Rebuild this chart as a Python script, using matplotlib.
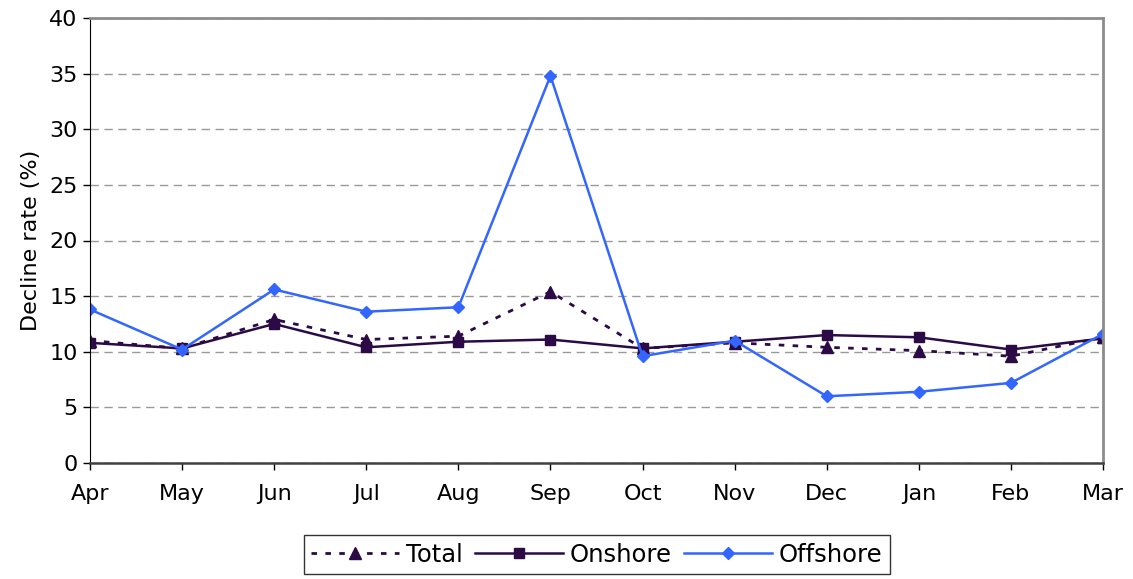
import matplotlib.pyplot as plt

# Данные
months = ["Apr", "May", "Jun", "Jul", "Aug", "Sep", "Oct", "Nov", "Dec", "Jan", "Feb", "Mar"]
total = [11.0, 10.3, 12.9, 11.1, 11.4, 15.4, 10.3, 10.8, 10.4, 10.1, 9.6, 11.3]
onshore = [10.8, 10.3, 12.5, 10.4, 10.9, 11.1, 10.3, 10.9, 11.5, 11.3, 10.2, 11.2]
offshore = [13.8, 10.2, 15.6, 13.6, 14.0, 34.8, 9.6, 11.0, 6.0, 6.4, 7.2, 11.6]

dark = "#2b0a45"
blue = "#3366ff"

fig = plt.figure(figsize=(11.33, 5.79), dpi=100)
ax = fig.add_axes([90 / 1133, 1 - 463 / 579, 1013 / 1133, 445 / 579])

x = range(len(months))
ax.plot(x, total, color=dark, linestyle=(0, (2, 3)), linewidth=2,
        marker="^", markersize=8, label="Total")
ax.plot(x, onshore, color=dark, linewidth=1.8,
        marker="s", markersize=7, label="Onshore")
ax.plot(x, offshore, color=blue, linewidth=1.8,
        marker="D", markersize=6.5, label="Offshore")

ax.set_xlim(0, len(months) - 1)
ax.set_ylim(0, 40)
ax.set_xticks(list(x))
ax.set_xticklabels(months)
ax.set_yticks(range(0, 41, 5))
ax.tick_params(labelsize=16, direction="out", length=5, width=1)
ax.tick_params(axis="x", pad=10)
ax.tick_params(axis="y", pad=4)
ax.set_ylabel("Decline rate (%)", fontsize=16, labelpad=6)

ax.grid(axis="y", color="#999999", linestyle=(0, (6, 4)), linewidth=1)
ax.set_axisbelow(True)
for side in ["top", "right"]:
    ax.spines[side].set_color("#8c8c8c")
    ax.spines[side].set_linewidth(2)
ax.spines["left"].set_color("black")
ax.spines["bottom"].set_color("#404040")
ax.spines["bottom"].set_linewidth(1.8)

leg = fig.legend(loc="lower center", bbox_to_anchor=(597 / 1133, -0.012), ncol=3,
                 fontsize=17.5, frameon=True, fancybox=False, edgecolor="black",
                 handlelength=3.6, handletextpad=0.3, columnspacing=0.5,
                 borderpad=0.3)
leg.get_frame().set_linewidth(1)

plt.savefig("out.png")
